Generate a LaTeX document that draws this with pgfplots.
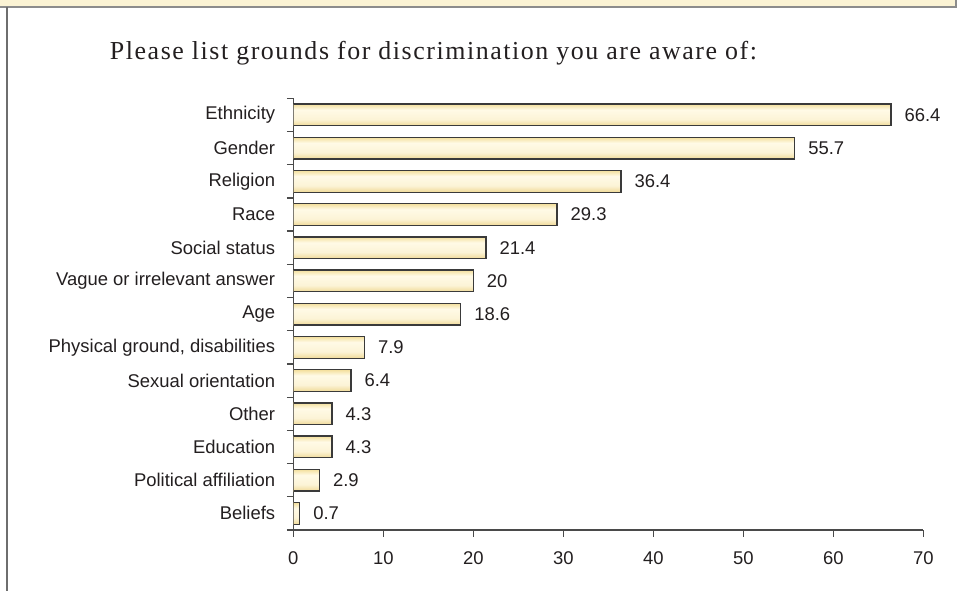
\documentclass[border=0pt]{standalone}
\usepackage{pgfplots}
\pgfplotsset{compat=1.18}
\usepackage{fontspec}
\setmainfont{Liberation Sans}
\newfontfamily\titlefont[LetterSpace=6]{Liberation Serif}
\definecolor{band}{HTML}{FBF3D4}
\definecolor{bandline}{HTML}{8C8C8C}
\definecolor{leftline}{HTML}{6E6E6E}
\definecolor{axisgray}{HTML}{4A4A4A}
\definecolor{txt}{HTML}{231F20}
\definecolor{barA}{HTML}{F3DF9C}
\definecolor{barB}{HTML}{FFFAE6}
\definecolor{barC}{HTML}{F0DA98}
\definecolor{barline}{HTML}{3A3A3A}
\pgfdeclareverticalshading{barshade}{100bp}{color(0bp)=(barC); color(25bp)=(barC); color(40bp)=(barB!80!barC); color(62bp)=(barB); color(75bp)=(barA); color(100bp)=(barA)}
\pgfplotsset{mybar/.style={xbar, bar width=21.7bp, bar shift=0pt, draw=barline, line width=1.3bp, shade, shading=barshade}}
\begin{document}
\begin{tikzpicture}[x=1bp,y=1bp]
\path[use as bounding box, fill=white] (0,0) rectangle (972,-591);
\fill[band] (0,0) rectangle (956,-7);
\draw[bandline, line width=1.6bp] (0,-7) -- (956,-7) -- (956,0);
\draw[leftline, line width=2bp] (7,-7) -- (7,-591);
\node[font=\titlefont\fontsize{26}{30}\selectfont, text=txt] at (433.5,-53) {Please list grounds for discrimination you are aware of:};
\begin{axis}[
  at={(293.3bp,-530bp)}, anchor=south west,
  scale only axis, width=630bp, height=431.7bp,
  xmin=0, xmax=70, ymin=-0.5, ymax=12.5,
  axis x line*=bottom, axis y line*=left,
  axis line style={line width=1.3bp, color=axisgray},
  xtick={0,10,...,70}, minor xtick={0,10,...,70},
  ytick={0,...,12}, minor ytick={-0.5,0.5,...,12.5},
  yticklabels={Beliefs, Political affiliation, Education, Other, Sexual orientation, {Physical ground, disabilities}, Age, Vague or irrelevant answer, Social status, Race, Religion, Gender, Ethnicity},
  major tick length=0pt, minor tick length=6.5bp, tick align=outside,
  tick style={line width=1.3bp, color=axisgray},
  major tick style={draw=none},
  /pgf/number format/assume math mode=true,
  tick label style={font=\fontsize{18.5}{22}\selectfont, text=txt, inner sep=0pt},
  yticklabel style={anchor=east, xshift=-18bp},
  xticklabel style={anchor=north, yshift=-21bp},
  nodes near coords, point meta=x,
  every node near coord/.append style={anchor=west, inner sep=0pt, xshift=13bp, font=\fontsize{18.5}{22}\selectfont, text=txt},
]
\addplot[mybar] coordinates {(66.4,12)};
\addplot[mybar] coordinates {(55.7,11)};
\addplot[mybar] coordinates {(36.4,10)};
\addplot[mybar] coordinates {(29.3,9)};
\addplot[mybar] coordinates {(21.4,8)};
\addplot[mybar] coordinates {(20,7)};
\addplot[mybar] coordinates {(18.6,6)};
\addplot[mybar] coordinates {(7.9,5)};
\addplot[mybar] coordinates {(6.4,4)};
\addplot[mybar] coordinates {(4.3,3)};
\addplot[mybar] coordinates {(4.3,2)};
\addplot[mybar] coordinates {(2.9,1)};
\addplot[mybar] coordinates {(0.7,0)};
\end{axis}
\end{tikzpicture}
\end{document}
